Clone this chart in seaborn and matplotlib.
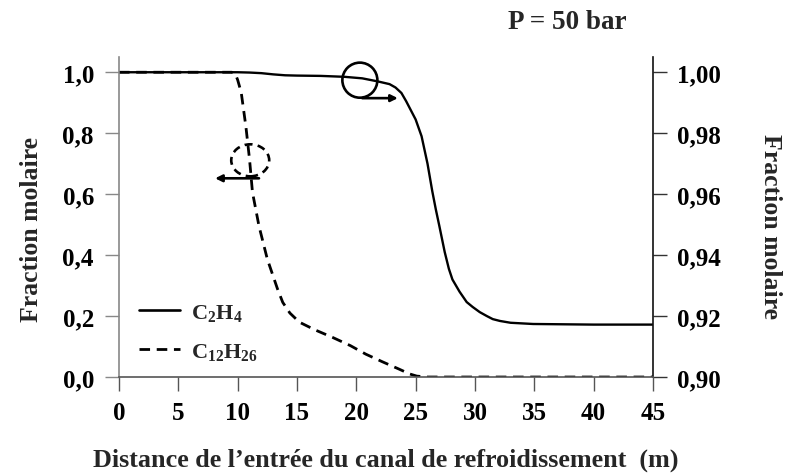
import numpy as np
import pandas as pd
import matplotlib
matplotlib.use("Agg")
import matplotlib.pyplot as plt
from matplotlib.patches import Ellipse
from matplotlib.lines import Line2D
import seaborn as sns

# Distance along the cooling channel (m) and molar fractions
dist_c2h4 = [0, 5, 10, 11, 12, 13, 14, 15, 17, 19, 20.5, 21.8, 22.8, 23.3, 23.8,
             24.2, 24.6, 25.0, 25.5, 26.0, 26.4, 26.7, 27.0, 27.45, 27.8, 28.1,
             28.7, 29.3, 29.8, 30.4, 31.0, 31.5, 32.1, 33, 34.9, 40, 45]
frac_c2h4 = [1.0, 1.0, 1.0, 0.9999, 0.9997, 0.9993, 0.9990, 0.9989, 0.9988,
             0.9985, 0.9980, 0.9970, 0.9961, 0.9950, 0.9932, 0.9905, 0.9875,
             0.9845, 0.9790, 0.9700, 0.9610, 0.9550, 0.9495, 0.9410, 0.9355,
             0.9320, 0.9280, 0.9246, 0.9230, 0.9213, 0.9200, 0.9190, 0.9184,
             0.9178, 0.9174, 0.9172, 0.9172]

dist_c12h26 = [0, 5, 9.5, 9.8, 10.0, 10.3, 10.7, 11.0, 11.25, 11.8, 12.5, 13.35,
               13.8, 14.4, 15.2, 16.5, 18, 19.5, 20.8, 22.2, 23.6, 24.5, 25.1,
               26, 30, 35, 40, 45]
frac_c12h26 = [1.0, 1.0, 1.0, 0.995, 0.975, 0.934, 0.82, 0.715, 0.606, 0.495,
               0.387, 0.29, 0.245, 0.21, 0.18, 0.155, 0.13, 0.103, 0.075, 0.05,
               0.026, 0.01, 0.003, 0.0, 0.0, 0.0, 0.0, 0.0]

xticks = [0, 5, 10, 15, 20, 25, 30, 35, 40, 45]
left_ticks = [0.0, 0.2, 0.4, 0.6, 0.8, 1.0]
right_ticks = [0.90, 0.92, 0.94, 0.96, 0.98, 1.00]

sns.set_style("ticks")
plt.rcParams["font.family"] = ["Liberation Serif", "DejaVu Serif"]
plt.rcParams["font.weight"] = "bold"
plt.rcParams["mathtext.fontset"] = "custom"
plt.rcParams["mathtext.rm"] = "Liberation Serif:bold"
plt.rcParams["mathtext.it"] = "Liberation Serif:bold"
plt.rcParams["mathtext.bf"] = "Liberation Serif:bold"
plt.rcParams["mathtext.default"] = "rm"

DASH = (0, (3.8, 2.4))

df_dec = pd.DataFrame({"x": dist_c12h26, "y": frac_c12h26})
df_eth = pd.DataFrame({"x": dist_c2h4, "y": frac_c2h4})

fig = plt.figure(figsize=(7.89, 4.77), dpi=100)
ax = fig.add_axes([0.1508, 0.2075, 0.8276 - 0.1508, 0.8784 - 0.2075])
ax2 = ax.twinx()

sns.lineplot(data=df_dec, x="x", y="y", ax=ax, color="black", lw=2.0,
             linestyle=DASH, legend=False)
sns.lineplot(data=df_eth, x="x", y="y", ax=ax2, color="black", lw=1.7,
             legend=False)

ax.set_xlim(0, 45)
ax.set_ylim(0, 1.05)
ax2.set_ylim(0.90, 1.005)

ax.set_xticks(xticks)
ax.set_xticklabels([str(t) for t in xticks])
ax.set_yticks(left_ticks)
ax.set_yticklabels([f"{t:.1f}".replace(".", ",") for t in left_ticks])
ax2.set_yticks(right_ticks)
ax2.set_yticklabels([f"{t:.2f}".replace(".", ",") for t in right_ticks])

tick_fs = 18
ax.tick_params(axis="x", direction="out", length=10, width=1.0, pad=7,
               labelsize=tick_fs, colors="#555555", labelcolor="black")
ax.tick_params(axis="y", direction="out", length=10, width=1.0, pad=8,
               labelsize=tick_fs, colors="#888888", labelcolor="black")
ax2.tick_params(axis="y", direction="out", length=10, width=1.0, pad=7.5,
                labelsize=tick_fs, colors="#333333", labelcolor="black")

for a in (ax, ax2):
    a.spines["top"].set_visible(False)
ax.spines["right"].set_visible(False)
ax2.spines["left"].set_visible(False)
ax2.spines["bottom"].set_visible(False)
ax.spines["left"].set_color("#888888")
ax.spines["bottom"].set_color("#555555")
ax2.spines["right"].set_color("#111111")
ax.spines["left"].set_linewidth(1.2)
ax.spines["bottom"].set_linewidth(1.2)
ax2.spines["right"].set_linewidth(1.2)

label_fs = 18.5
ax.set_xlabel("Distance de l\u2019entr\u00e9e du canal de refroidissement  (m)",
              fontsize=18.8, fontweight="bold", labelpad=17)
ax.set_ylabel("Fraction molaire", fontsize=label_fs, fontweight="bold",
              labelpad=14)
ax2.set_ylabel("Fraction molaire", fontsize=label_fs, fontweight="bold",
               rotation=270, labelpad=44)
ax.yaxis.label.set_y(0.465)
ax2.yaxis.label.set_y(0.475)

fig.text(0.719, 0.952, "P = 50 bar", fontsize=19.5, fontweight="bold",
         ha="center", va="center")

# Circles marking which axis each curve is read on
ax.add_patch(Ellipse((20.3, 0.974), 2.95, 0.115, fill=False, ec="black",
                     lw=1.9, zorder=5, clip_on=False))
ax.add_patch(Ellipse((11.06, 0.711), 3.2, 0.105, fill=False, ec="black",
                     lw=1.9, ls=(0, (3, 2)), zorder=5))
ax.annotate("", xy=(23.5, 0.915), xytext=(20.5, 0.915),
            arrowprops=dict(arrowstyle="-|>", color="black", lw=1.9,
                            mutation_scale=10, shrinkA=0, shrinkB=0))
ax.annotate("", xy=(8.1, 0.652), xytext=(11.8, 0.652),
            arrowprops=dict(arrowstyle="-|>", color="black", lw=1.9,
                            mutation_scale=10, shrinkA=0, shrinkB=0))

ax.set_zorder(ax2.get_zorder() + 1)
ax.patch.set_visible(False)

handles = [Line2D([], [], color="black", lw=1.9),
           Line2D([], [], color="black", lw=2.0, linestyle=DASH)]
ax.legend(handles, ["C$_2$H$_4$", "C$_{12}$H$_{26}$"], loc="lower left",
          bbox_to_anchor=(0.0, -0.015), frameon=False, fontsize=16,
          handlelength=1.85, handletextpad=0.5, labelspacing=0.8,
          borderaxespad=0.5)

fig.savefig("out.png", dpi=100, facecolor="white")
